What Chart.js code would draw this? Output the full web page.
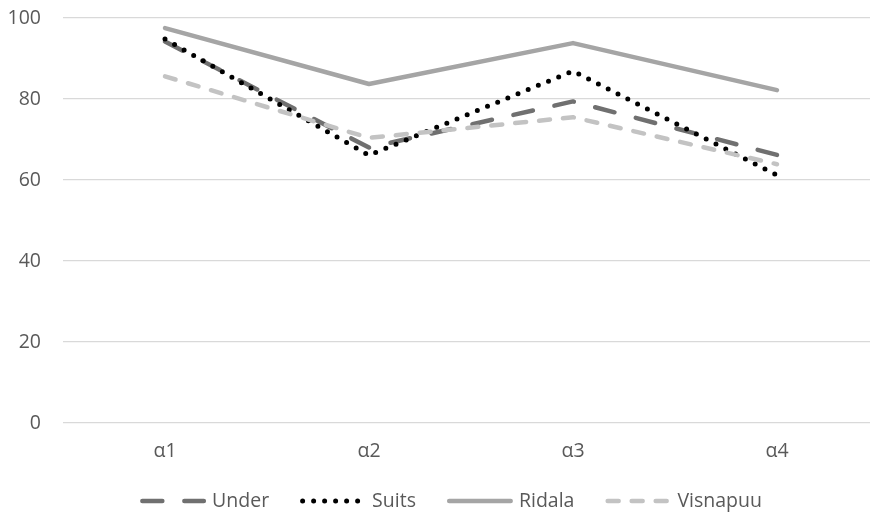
<!DOCTYPE html>
<html>
<head>
<meta charset="utf-8">
<script src="https://cdn.jsdelivr.net/npm/chart.js@4/dist/chart.umd.min.js"></script>
<style>
  html, body { margin: 0; padding: 0; background: #ffffff; overflow: hidden; }
  #wrap { width: 879px; height: 516px; }
</style>
</head>
<body>
<div id="wrap"><canvas id="c" width="879" height="516"></canvas></div>
<script>
// Categories and series values
const categories = ['α1', 'α2', 'α3', 'α4'];
const under    = [94.2, 68.0, 79.4, 66.2];
const suits    = [94.8, 66.1, 86.9, 61.2];
const ridala   = [97.5, 83.7, 93.8, 82.2];
const visnapuu = [85.6, 70.4, 75.5, 63.9];
const yTicks   = [0, 20, 40, 60, 80, 100];

const textColor = '#595959';
const font = { family: '"Open Sans", "Noto Sans", sans-serif', size: 19.5 };

// Legend row under the axis: a line sample in each series' own stroke, then its name
const seriesLegend = {
  id: 'seriesLegend',
  afterDraw(chart, args, opts) {
    const ctx = chart.ctx;
    ctx.save();
    ctx.font = `${font.size}px ${font.family}`;
    ctx.textBaseline = 'middle';
    ctx.textAlign = 'left';
    const items = chart.data.datasets.map(ds => ({ ds, w: ctx.measureText(ds.label).width }));
    const total = items.reduce((s, it) => s + opts.sampleWidth + opts.textGap + it.w, 0)
                + opts.itemGap * (items.length - 1);
    let x = opts.centerX - total / 2;
    const y = opts.y;
    items.forEach(it => {
      const r = it.ds.borderWidth / 2;
      ctx.strokeStyle = it.ds.borderColor;
      ctx.lineWidth = it.ds.borderWidth;
      ctx.lineCap = 'round';
      ctx.setLineDash(it.ds.borderDash || []);
      ctx.beginPath();
      ctx.moveTo(x + r, y);
      ctx.lineTo(x + opts.sampleWidth - r, y);
      ctx.stroke();
      ctx.setLineDash([]);
      x += opts.sampleWidth + opts.textGap;
      ctx.fillStyle = textColor;
      ctx.fillText(it.ds.label, x, y);
      x += it.w + opts.itemGap;
    });
    ctx.restore();
  }
};

new Chart(document.getElementById('c'), {
  type: 'line',
  data: {
    labels: categories,
    datasets: [
      { label: 'Under', data: under, borderColor: '#707070', borderWidth: 4.5,
        borderDash: [20, 22], order: 4 },
      { label: 'Suits', data: suits, borderColor: '#000000', borderWidth: 5,
        borderDash: [0, 11], order: 3 },
      { label: 'Ridala', data: ridala, borderColor: '#a5a5a5', borderWidth: 4.5,
        order: 2 },
      { label: 'Visnapuu', data: visnapuu, borderColor: '#c3c3c3', borderWidth: 4.5,
        borderDash: [11, 13], order: 1 }
    ].map(d => Object.assign({ fill: false, tension: 0, pointRadius: 0, pointHoverRadius: 0,
                                borderCapStyle: 'round', borderJoinStyle: 'round',
                                backgroundColor: d.borderColor }, d))
  },
  plugins: [seriesLegend],
  options: {
    responsive: false,
    animation: false,
    devicePixelRatio: 1,
    layout: { padding: { top: 18, left: 0, right: 0, bottom: 56 } },
    plugins: {
      tooltip: { enabled: false },
      legend: { display: false },
      seriesLegend: { centerX: 451, y: 501, sampleWidth: 66, textGap: 6, itemGap: 31 }
    },
    scales: {
      x: {
        offset: true,
        grid: { display: false, drawTicks: false },
        border: { display: false },
        ticks: { color: textColor, font: font, padding: 17 },
        afterFit: s => { s.height = 37; }
      },
      y: {
        min: 0, max: 100,
        afterBuildTicks: s => { s.ticks = yTicks.map(v => ({ value: v })); },
        grid: { color: '#d9d9d9', lineWidth: 1.3, drawTicks: false },
        border: { display: false },
        ticks: { color: textColor, font: font, padding: 22 },
        // fixed axis width; the top label needs no extra room above the plot
        afterFit: s => { s.width = 63; s.paddingTop = 0; }
      }
    }
  }
});
</script>
</body>
</html>
